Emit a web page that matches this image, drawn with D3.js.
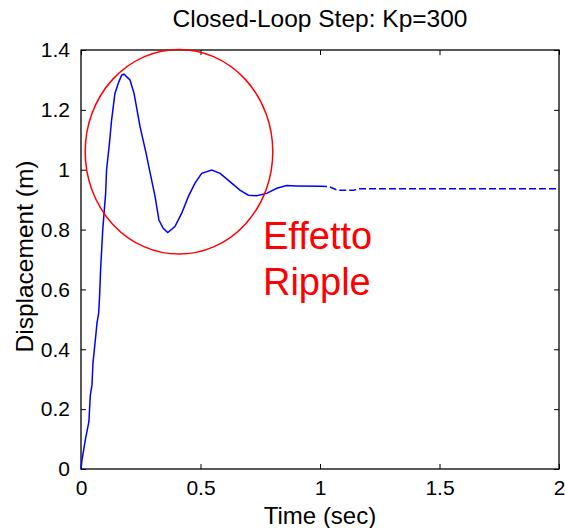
<!DOCTYPE html>
<html>
<head>
<meta charset="utf-8">
<script src="https://cdn.jsdelivr.net/npm/d3@7"></script>
<style>
    body { margin: 0; background: #fff; }
    svg { display: block; font-family: "Liberation Sans", Arial, sans-serif; }
    .axis .domain { display: none; }
    .axis line { stroke: #000; }
</style>
</head>
<body>
<div id="chart"></div>
<script>
// Step response values
const timeSolid = [0, 0.004, 0.011, 0.018, 0.026, 0.033, 0.039, 0.046, 0.050, 0.060, 0.067, 0.074, 0.078, 0.082,
    0.091, 0.103, 0.107, 0.119, 0.128, 0.142, 0.156, 0.170, 0.180, 0.205, 0.222, 0.247, 0.272, 0.289, 0.310,
    0.326, 0.344, 0.363, 0.393, 0.421, 0.449, 0.477, 0.505, 0.547, 0.582, 0.623, 0.665, 0.700, 0.735, 0.777,
    0.819, 0.860, 0.900, 1.000];
const dispSolid = [0, 0.030, 0.063, 0.097, 0.130, 0.158, 0.247, 0.281, 0.354, 0.431, 0.488, 0.521, 0.581, 0.665,
    0.800, 0.920, 1.000, 1.088, 1.166, 1.255, 1.289, 1.316, 1.319, 1.300, 1.255, 1.144, 1.056, 0.990, 0.910,
    0.832, 0.804, 0.790, 0.810, 0.854, 0.910, 0.955, 0.988, 0.999, 0.988, 0.960, 0.932, 0.915, 0.913, 0.921,
    0.938, 0.947, 0.946, 0.945];
const timeDashed = [1.000, 1.040, 1.075, 1.140, 1.160, 2.000];
const dispDashed = [0.945, 0.943, 0.931, 0.931, 0.936, 0.936];

const xTicks = [0, 0.5, 1, 1.5, 2];
const yTicks = [0, 0.2, 0.4, 0.6, 0.8, 1, 1.2, 1.4];

// Ripple annotation (data units)
const rippleCenter = [0.41, 1.06];
const rippleRadius = [0.3925, 0.342];
const rippleText = ['Effetto', 'Ripple'];

const width = 565, height = 528;
const margin = { left: 81, right: 6, top: 50, bottom: 59 };
const plotW = width - margin.left - margin.right;
const plotH = height - margin.top - margin.bottom;

const svg = d3.select('#chart').append('svg')
    .attr('width', width)
    .attr('height', height);

const g = svg.append('g')
    .attr('transform', `translate(${margin.left},${margin.top})`);

const x = d3.scaleLinear().domain([0, 2]).range([0, plotW]);
const y = d3.scaleLinear().domain([0, 1.4]).range([plotH, 0]);

const fmt = d => (d === 0 ? '0' : String(d));

// axes, ticks pointing inside
g.append('g')
    .attr('class', 'axis')
    .attr('transform', `translate(0,${plotH})`)
    .call(d3.axisBottom(x).tickValues(xTicks).tickFormat(fmt).tickSizeInner(-5).tickSizeOuter(0).tickPadding(11))
    .selectAll('text').attr('font-size', 21).attr('fill', '#000');

g.append('g')
    .attr('class', 'axis')
    .call(d3.axisLeft(y).tickValues(yTicks).tickFormat(fmt).tickSizeInner(-5).tickSizeOuter(0).tickPadding(11))
    .selectAll('text').attr('font-size', 21).attr('fill', '#000');

g.append('g')
    .attr('class', 'axis')
    .call(d3.axisTop(x).tickValues(xTicks).tickFormat('').tickSizeInner(-5).tickSizeOuter(0));

g.append('g')
    .attr('class', 'axis')
    .attr('transform', `translate(${plotW},0)`)
    .call(d3.axisRight(y).tickValues(yTicks).tickFormat('').tickSizeInner(-5).tickSizeOuter(0));

// box
g.append('rect')
    .attr('width', plotW)
    .attr('height', plotH)
    .attr('fill', 'none')
    .attr('stroke', '#000')
    .attr('stroke-width', 1.3);

// response curve
const line = d3.line()
    .x(d => x(d[0]))
    .y(d => y(d[1]));

g.append('path')
    .datum(timeSolid.map((t, i) => [t, dispSolid[i]]))
    .attr('d', line)
    .attr('fill', 'none')
    .attr('stroke', '#0000ff')
    .attr('stroke-width', 1.5);

g.append('path')
    .datum(timeDashed.map((t, i) => [t, dispDashed[i]]))
    .attr('d', line)
    .attr('fill', 'none')
    .attr('stroke', '#0000ff')
    .attr('stroke-width', 1.5)
    .attr('stroke-dasharray', '7,3');

// red circle around the ripple
g.append('ellipse')
    .attr('cx', x(rippleCenter[0]))
    .attr('cy', y(rippleCenter[1]))
    .attr('rx', x(rippleRadius[0]) - x(0))
    .attr('ry', y(0) - y(rippleRadius[1]))
    .attr('fill', 'none')
    .attr('stroke', '#ff0000')
    .attr('stroke-width', 1.5);

g.selectAll('.ripple-label')
    .data(rippleText)
    .enter()
    .append('text')
    .attr('class', 'ripple-label')
    .attr('x', x(0.7615))
    .attr('y', (d, i) => y(0.736) + i * 46)
    .attr('font-size', 38)
    .attr('fill', '#ff0000')
    .text(d => d);

// titles
svg.append('text')
    .attr('x', margin.left + plotW / 2)
    .attr('y', 27)
    .attr('text-anchor', 'middle')
    .attr('font-size', 24.5)
    .text('Closed-Loop Step: Kp=300');

svg.append('text')
    .attr('x', margin.left + plotW / 2)
    .attr('y', 524)
    .attr('text-anchor', 'middle')
    .attr('font-size', 24)
    .text('Time (sec)');

svg.append('text')
    .attr('transform', `translate(33,${margin.top + plotH / 2 - 3}) rotate(-90)`)
    .attr('text-anchor', 'middle')
    .attr('font-size', 24.5)
    .text('Displacement (m)');
</script>
</body>
</html>
